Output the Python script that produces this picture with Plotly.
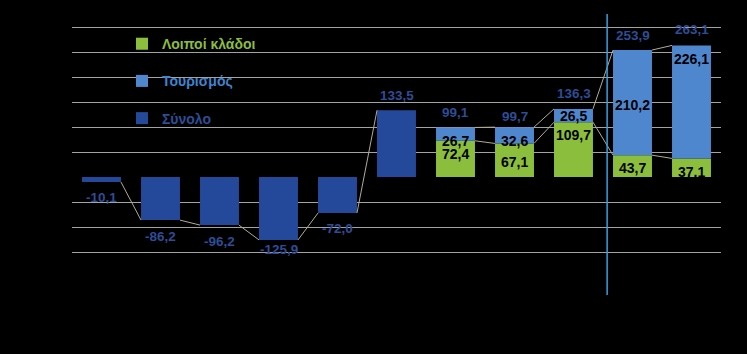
import plotly.graph_objects as go

# ---- data ----
positions = list(range(11))
total = [-10.1, -86.2, -96.2, -125.9, -72.0, 133.5, 99.1, 99.7, 136.3, 253.9, 263.1]
tourism = [None, None, None, None, None, None, 26.7, 32.6, 26.5, 210.2, 226.1]
other = [None, None, None, None, None, None, 72.4, 67.1, 109.7, 43.7, 37.1]
names = ["Λοιποί κλάδοι", "Τουρισμός", "Σύνολο"]

# ---- style ----
C_GREEN = "#8cbe3e"
C_TOUR = "#4f87cf"
C_TOTAL = "#24489a"
C_TOTAL_TXT = "#2d4d96"
C_TOUR_TXT = "#3f84cf"
C_GRID = "#a3a3a3"
C_SERIES = "#b3aa90"
C_VLINE = "#3b9ee0"
BAR_W = 0.66
FONT = "Liberation Sans, Arial, sans-serif"

total_bars = [t if o is None else None for t, o in zip(total, other)]

fig = go.Figure()
fig.add_trace(go.Bar(x=positions, y=other, name=f"<span style='color:{C_GREEN}'>{names[0]}</span>",
                     marker=dict(color=C_GREEN, line=dict(width=0)), width=BAR_W,
                     legendgroup="g1", hoverinfo="skip"))
fig.add_trace(go.Bar(x=positions, y=tourism, name=f"<span style='color:{C_TOUR_TXT}'>{names[1]}</span>",
                     marker=dict(color=C_TOUR, line=dict(width=0)), width=BAR_W,
                     legendgroup="g2", hoverinfo="skip"))
fig.add_trace(go.Bar(x=positions, y=total_bars, name=f"<span style='color:{C_TOTAL_TXT}'>{names[2]}</span>",
                     marker=dict(color=C_TOTAL, line=dict(width=0)), width=BAR_W,
                     legendgroup="g3", hoverinfo="skip"))


# ---- series lines (connect series ends between neighbouring bars) ----
def series_lines(vals):
    xs, ys = [], []
    for i in range(len(vals) - 1):
        a, b = vals[i], vals[i + 1]
        if a is None or b is None:
            continue
        xs += [positions[i] + BAR_W / 2, positions[i + 1] - BAR_W / 2, None]
        ys += [a, b, None]
    return xs, ys


tour_top = [None if o is None else o + t for o, t in zip(other, tourism)]
for vals in (total_bars, other, tour_top):
    xs, ys = series_lines(vals)
    fig.add_trace(go.Scatter(x=xs, y=ys, mode="lines", line=dict(color=C_SERIES, width=1),
                             showlegend=False, hoverinfo="skip", connectgaps=False))

# ---- labels ----
fmt = lambda v: f"{v:.1f}".replace(".", ",")
total_nudge = [1, 0, 0, 6, 1, 0, 0, -4, 0, 0, 1]
for i, v in enumerate(total):
    fig.add_annotation(x=positions[i], y=v, text=f"<b>{fmt(v)}</b>", showarrow=False,
                       yshift=(15 if v >= 0 else -16) + total_nudge[i],
                       font=dict(family=FONT, size=13.5, color=C_TOTAL_TXT))

tour_nudge = [0, 0, 0, 0, 0, 0, -6.5, -6, 0, -2.5, 42.5]
other_nudge = [0, 0, 0, 0, 0, 0, 5, -1.5, 14.5, -2, -4.5]
for i in positions:
    if other[i] is None:
        continue
    fig.add_annotation(x=positions[i], y=other[i] + tourism[i] / 2, text=f"<b>{fmt(tourism[i])}</b>",
                       showarrow=False, yshift=tour_nudge[i],
                       font=dict(family=FONT, size=14, color="#000000"))
    fig.add_annotation(x=positions[i], y=other[i] / 2, text=f"<b>{fmt(other[i])}</b>",
                       showarrow=False, yshift=other_nudge[i],
                       font=dict(family=FONT, size=14, color="#000000"))

# vertical separator
fig.add_shape(type="line", xref="x", yref="paper", x0=8.57, x1=8.57, y0=-0.162, y1=1.034,
              line=dict(color=C_VLINE, width=1.5), layer="above")

fig.update_layout(
    width=747, height=354,
    margin=dict(l=72, r=26, t=22, b=97),
    paper_bgcolor="#000000", plot_bgcolor="#000000",
    barmode="relative", bargap=0.34,
    font=dict(family=FONT),
    showlegend=True,
    legend=dict(x=0.077, y=0.974, xanchor="left", yanchor="top", bgcolor="rgba(0,0,0,0)",
                font=dict(family=FONT, size=14, color="#ffffff", weight="bold"),
                traceorder="grouped", tracegroupgap=16, itemclick=False),
    xaxis=dict(range=[-0.5, 10.5], showticklabels=False, showgrid=False, zeroline=False,
               ticks="", showline=False),
    yaxis=dict(range=[-160, 310], dtick=50, showticklabels=False, showgrid=True,
               gridcolor=C_GRID, gridwidth=1, zeroline=True, zerolinecolor="#000000",
               zerolinewidth=2, ticks="", showline=False),
)

fig.write_html("out.html")
